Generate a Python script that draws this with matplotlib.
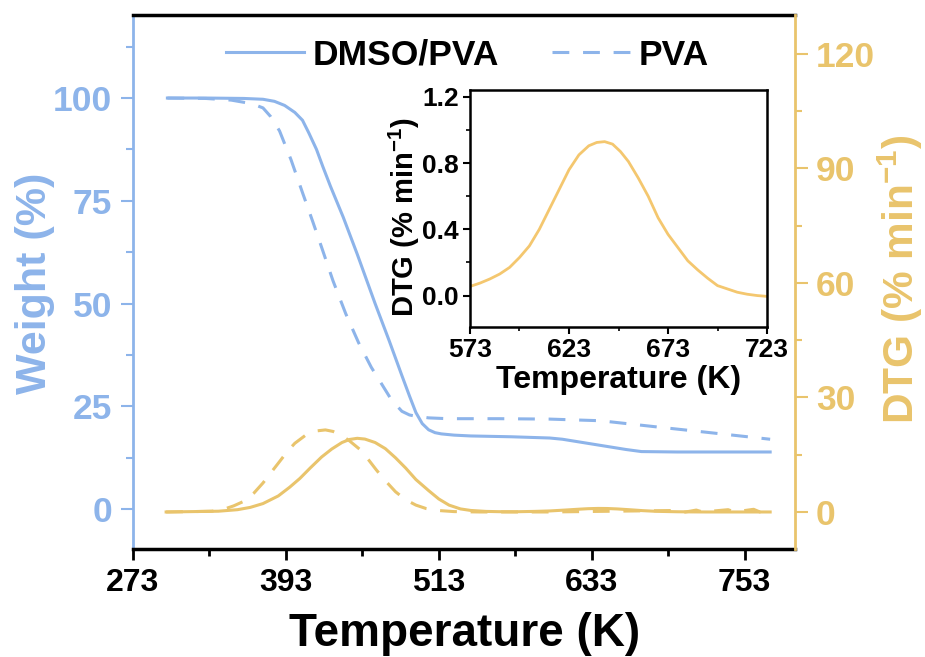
import matplotlib
matplotlib.use("Agg")
import matplotlib.pyplot as plt
from matplotlib.ticker import MultipleLocator, FixedLocator

plt.rcParams['mathtext.fontset'] = 'custom'
plt.rcParams['mathtext.rm'] = 'Liberation Sans:bold'
plt.rcParams['mathtext.bf'] = 'Liberation Sans:bold'
plt.rcParams['mathtext.it'] = 'Liberation Sans:bold'

BLUE = '#8DB4EA'
YELLOW = '#E9C46C'
INSET_YELLOW = '#F4C76F'
FONT = ['Liberation Sans', 'DejaVu Sans']

# ---- data ----
T_w_dmso = [300, 330, 360, 375, 384, 392, 400, 406, 411, 417, 422, 428, 438, 449, 456,
            463, 474, 484, 490, 495, 500, 505, 510, 515, 525, 538, 570, 600, 610, 620, 630,
            640, 650, 660, 672, 700, 740, 773]
w_dmso = [100, 100, 99.9, 99.7, 99.2, 98.2, 96.5, 94.6, 91.5, 87.5, 83.3, 78.5, 71, 62, 56,
          50, 41, 32.5, 27.5, 23.5, 20.8, 19.3, 18.6, 18.3, 18.0, 17.8, 17.6, 17.3, 17.0,
          16.5, 16.0, 15.5, 15.0, 14.5, 14.0, 13.9, 13.9, 13.9]

T_w_pva = [300, 330, 350, 363, 369, 375, 381, 388, 397, 406, 414, 421, 430, 440, 450, 460,
           468, 476, 484, 490, 495, 505, 520, 560, 600, 640, 684, 720, 773]
w_pva = [100, 99.9, 99.5, 98.8, 98.3, 97.6, 95.5, 92, 85, 77, 70, 63.7, 55.5, 47.5, 40.5, 34.5,
         30.5, 26.5, 23.8, 22.9, 22.6, 22.2, 22.0, 22.0, 21.9, 21.5, 20, 18.8, 17]

T_d_dmso = [299, 320, 340, 355, 365, 375, 387, 396, 404, 412, 421, 429, 437, 443,
            449, 455, 463, 471, 479, 487, 495, 505, 513, 521, 530, 538, 550, 560,
            573, 588, 600, 612, 623, 630, 638, 645, 653, 663, 673, 683, 691, 700,
            712, 723, 750, 773]
d_dmso = [0, 0.1, 0.2, 0.6, 1.2, 2.2, 4.2, 6.5, 8.8, 11.5, 14.4, 16.5, 18.2, 19.0,
          19.3, 19.1, 18.2, 16.6, 14.2, 11.5, 8.5, 5.6, 3.4, 1.8, 0.8, 0.4, 0.15, 0.08,
          0.06, 0.15, 0.27, 0.5, 0.73, 0.86, 0.93, 0.91, 0.80, 0.58, 0.35, 0.18, 0.12, 0.06,
          0.02, 0.0, 0.0, 0.0]

T_d_pva = [299, 320, 335, 345, 352, 360, 368, 375, 381, 388, 394, 400, 408, 416,
           424, 430, 436, 443, 451, 458, 464, 471, 479, 487, 495, 503, 512, 525,
           545, 600, 650, 700, 705, 715, 720, 740, 745, 760, 765, 773]
d_pva = [0, 0.1, 0.2, 0.8, 1.6, 2.8, 5.0, 7.6, 10.2, 13.2, 15.8, 18.0, 20.0, 21.2,
         21.5, 21.1, 20.2, 18.6, 16.4, 13.6, 11.0, 8.2, 5.3, 3.2, 1.8, 0.9, 0.4, 0.1,
         0.0, 0.0, 0.2, 0.4, -0.1, 0.5, 0.0, 0.6, 0.0, 0.7, 0.0, 0.0]

T_inset = [573, 578, 583, 588, 593, 598, 603, 608, 613, 618, 623, 628, 633, 637, 641,
           645, 649, 653, 658, 663, 668, 673, 678, 683, 688, 693, 698, 703, 708, 713,
           718, 723]
d_inset = [0.055, 0.075, 0.10, 0.13, 0.17, 0.23, 0.30, 0.40, 0.52, 0.64, 0.76, 0.85,
           0.905, 0.925, 0.93, 0.915, 0.87, 0.81, 0.71, 0.60, 0.47, 0.37, 0.29, 0.21,
           0.155, 0.105, 0.06, 0.04, 0.02, 0.008, 0.0, -0.005]

x_ticks = [273, 393, 513, 633, 753]
w_ticks = [0, 25, 50, 75, 100]
d_ticks = [0, 30, 60, 90, 120]
inset_xticks = [573, 623, 673, 723]
inset_yticks = [0.0, 0.4, 0.8, 1.2]
inset_ylabels = ['0.0', '0.4', '0.8', '1.2']

# ---- figure ----
fig = plt.figure(figsize=(9.25, 6.57), dpi=100)
ax = fig.add_axes([0.14378, 0.16438, 0.71568, 0.81279])
ax2 = ax.twinx()

DASH = (0, (5.5, 4.5))
l1, = ax.plot(T_w_dmso, w_dmso, color=BLUE, lw=2.2, label='DMSO/PVA')
l2, = ax.plot(T_w_pva, w_pva, color=BLUE, lw=2.2, linestyle=DASH, label='PVA')
ax2.plot(T_d_dmso, d_dmso, color=YELLOW, lw=2.2)
ax2.plot(T_d_pva, d_pva, color=YELLOW, lw=2.2, linestyle=DASH)

ax.set_xlim(273, 792.5)
ax.set_ylim(-9.7, 120.2)
ax2.set_ylim(-9.7, 130.2)

ax.xaxis.set_major_locator(FixedLocator(x_ticks))
ax.xaxis.set_minor_locator(FixedLocator([333, 453, 573, 693]))
ax.yaxis.set_major_locator(FixedLocator(w_ticks))
ax.yaxis.set_minor_locator(MultipleLocator(12.5))
ax2.yaxis.set_major_locator(FixedLocator(d_ticks))
ax2.yaxis.set_minor_locator(MultipleLocator(15))

for s in ['top', 'bottom']:
    ax.spines[s].set_linewidth(2.5)
    ax.spines[s].set_color('black')
ax.spines['left'].set_color(BLUE)
ax.spines['left'].set_linewidth(2.0)
ax.spines['right'].set_visible(False)
for s in ['left', 'top', 'bottom']:
    ax2.spines[s].set_visible(False)
ax2.spines['right'].set_color(YELLOW)
ax2.spines['right'].set_linewidth(2.0)

ax.tick_params(axis='x', which='major', direction='out', length=8, width=2, color='black',
               labelsize=23, pad=6)
ax.tick_params(axis='x', which='minor', direction='out', length=5, width=2, color='black')
ax.tick_params(axis='y', which='major', direction='out', length=9, width=1.5, color=BLUE,
               labelcolor=BLUE, labelsize=25.5, pad=6)
ax.tick_params(axis='y', which='minor', direction='out', length=5, width=1.5, color=BLUE)
ax2.tick_params(axis='y', which='major', direction='out', length=9, width=1.5, color=YELLOW,
                labelcolor=YELLOW, labelsize=25.5, pad=6)
ax2.tick_params(axis='y', which='minor', direction='out', length=5, width=1.5, color=YELLOW)

for lab in ax.get_xticklabels() + ax.get_yticklabels() + ax2.get_yticklabels():
    lab.set_family(FONT)
    lab.set_fontweight('bold')

ax.set_xlabel('Temperature (K)', fontsize=33, fontweight='bold', family=FONT)
ax.xaxis.set_label_coords(0.5015, -0.118)
ax.set_ylabel('Weight (%)', fontsize=31, fontweight='bold', family=FONT, color=BLUE)
ax.yaxis.set_label_coords(-0.118, 0.498)
ax2.set_ylabel('DTG (% min$^{\\mathbf{-1}}$)', fontsize=30.5, fontweight='bold', family=FONT,
               color=YELLOW)
ax2.yaxis.set_label_coords(1.122, 0.505)

leg = ax.legend(handles=[l1, l2], loc='center', bbox_to_anchor=(0.505, 0.925), ncol=2,
                frameon=False, handlelength=2.2, handletextpad=0.25, columnspacing=1.5,
                prop={'family': FONT, 'weight': 'bold', 'size': 25.5})

# ---- inset ----
ins = fig.add_axes([0.5081, 0.5023, 0.3211, 0.3607])
ins.set_zorder(5)
ins.plot(T_inset, d_inset, color=INSET_YELLOW, lw=2.0)
ins.set_xlim(573, 723)
ins.set_ylim(-0.19, 1.242)
ins.xaxis.set_major_locator(FixedLocator(inset_xticks))
ins.xaxis.set_minor_locator(FixedLocator([598, 648, 698]))
ins.yaxis.set_major_locator(FixedLocator(inset_yticks))
ins.yaxis.set_minor_locator(MultipleLocator(0.2))
ins.set_yticklabels(inset_ylabels)
for s in ins.spines.values():
    s.set_linewidth(1.8)
ins.tick_params(which='major', direction='out', length=5, width=1.5, labelsize=19, pad=3)
ins.tick_params(which='minor', direction='out', length=3, width=1.2)
for lab in ins.get_xticklabels() + ins.get_yticklabels():
    lab.set_family(FONT)
    lab.set_fontweight('bold')
ins.set_xlabel('Temperature (K)', fontsize=23, fontweight='bold', family=FONT, labelpad=2)
ins.set_ylabel('DTG (% min$^{\\mathbf{-1}}$)', fontsize=21, fontweight='bold', family=FONT)
ins.yaxis.set_label_coords(-0.16, 0.464)

fig.savefig('out.png', dpi=100)
